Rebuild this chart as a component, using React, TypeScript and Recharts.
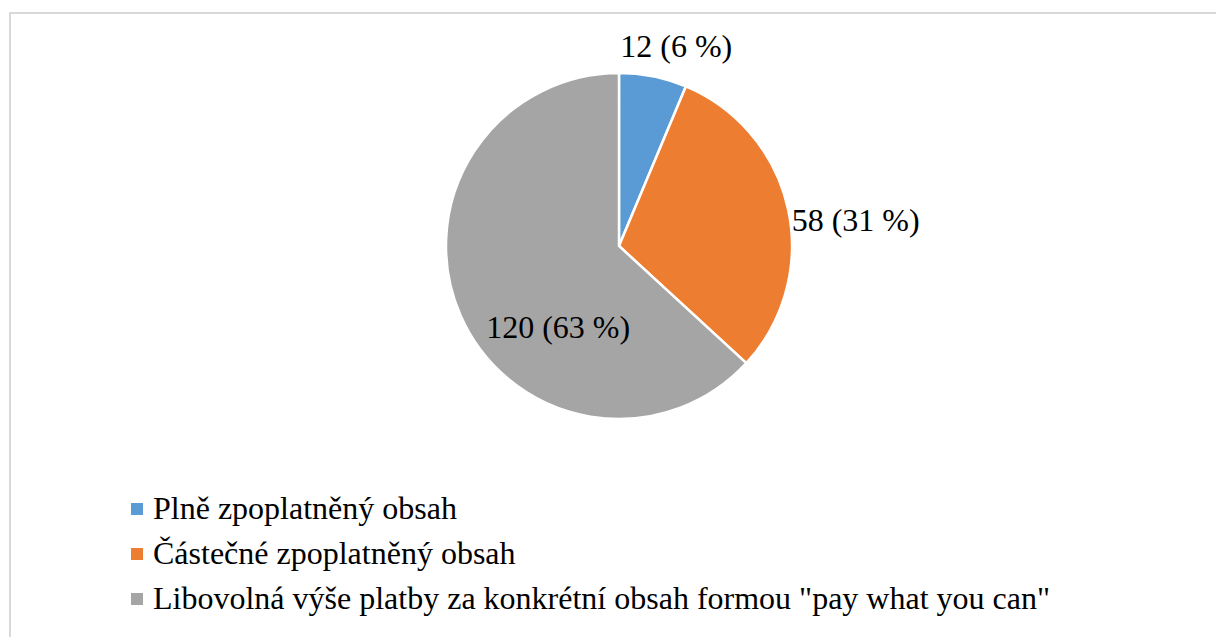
import React from 'react';
import { PieChart, Pie, Cell, Legend } from 'recharts';

const categories = [
  'Plně zpoplatněný obsah',
  'Částečné zpoplatněný obsah',
  'Libovolná výše platby za konkrétní obsah formou "pay what you can"',
];
const values = [12, 58, 120];
const percentLabels = ['6 %', '31 %', '63 %'];
const colors = ['#5b9bd5', '#ed7d31', '#a5a5a5'];

const data = categories.map((name, i) => ({ name, value: values[i], pct: percentLabels[i] }));

// label placement (polar, relative to pie centre / outer radius)
const LABEL_POS = [
  { angle: 74, factor: 1.2 },
  { angle: 6.3, factor: 1.376 },
  { angle: 233, factor: 0.584 },
];

const FONT = 'Liberation Serif';
const FONT_SIZE = 32;

const renderLabel = (props: any) => {
  const { cx, cy, outerRadius, index, value } = props;
  const p = LABEL_POS[index];
  const rad = (p.angle * Math.PI) / 180;
  const x = cx + p.factor * outerRadius * Math.cos(rad);
  const y = cy - p.factor * outerRadius * Math.sin(rad);
  return (
    <text
      x={x}
      y={y}
      textAnchor="middle"
      dominantBaseline="central"
      fill="#000"
      fontFamily={FONT}
      fontSize={FONT_SIZE}
    >
      {`${value} (${percentLabels[index]})`}
    </text>
  );
};

const renderLegend = () => (
  <div style={{ fontFamily: FONT, fontSize: FONT_SIZE, color: '#000' }}>
    {categories.map((c, i) => (
      <div key={c} style={{ display: 'flex', alignItems: 'center', height: 45, whiteSpace: 'nowrap' }}>
        <span
          style={{
            display: 'inline-block',
            width: 12,
            height: 12,
            background: colors[i],
            marginRight: 10,
          }}
        />
        <span>{c}</span>
      </div>
    ))}
  </div>
);

export default function App() {
  return (
    <div
      style={{
        position: 'absolute',
        left: 0,
        top: 0,
        width: 1216,
        height: 637,
        overflow: 'hidden',
        background: '#fff',
      }}
    >
      <div
        style={{
          position: 'absolute',
          left: 9,
          top: 12,
          width: 1240,
          height: 660,
          border: '2px solid #d9d9d9',
          boxSizing: 'border-box',
        }}
      />
      <div style={{ position: 'absolute', left: 0, top: 0 }}>
        <PieChart width={1216} height={637} margin={{ top: 0, right: 0, bottom: 0, left: 0 }}>
          <Pie
            data={data}
            dataKey="value"
            nameKey="name"
            cx={619}
            cy={246}
            outerRadius={173}
            startAngle={90}
            endAngle={-270}
            stroke="#ffffff"
            strokeWidth={2.5}
            label={renderLabel}
            labelLine={false}
            isAnimationActive={false}
          >
            {data.map((d, i) => (
              <Cell key={d.name} fill={colors[i]} />
            ))}
          </Pie>
          <Legend
            content={renderLegend}
            wrapperStyle={{ position: 'absolute', left: 131, top: 486, width: 1050 }}
          />
        </PieChart>
      </div>
    </div>
  );
}
